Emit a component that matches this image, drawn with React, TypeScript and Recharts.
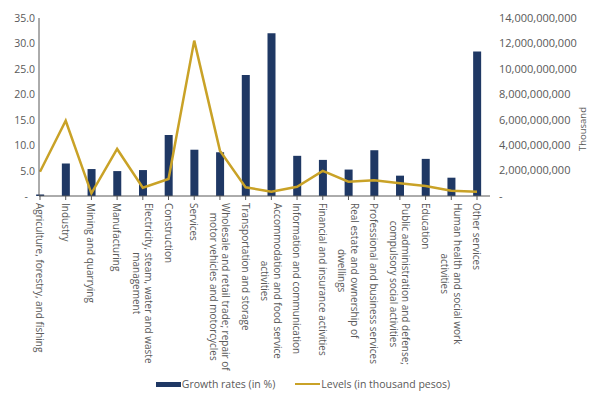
import { Bar, ComposedChart, Legend, Line, XAxis, YAxis } from 'recharts'

const categories = [
  'Agriculture, forestry, and fishing',
  'Industry',
  'Mining and quarrying',
  'Manufacturing',
  'Electricity, steam, water and waste management',
  'Construction',
  'Services',
  'Wholesale and retail trade; repair of motor vehicles and motorcycles',
  'Transportation and storage',
  'Accommodation and food service activities',
  'Information and communication',
  'Financial and insurance activities',
  'Real estate and ownership of dwellings',
  'Professional and business services',
  'Public administration and defense; compulsory social activities',
  'Education',
  'Human health and social work activities',
  'Other services',
]

const growthRates = [
  0.3, 6.4, 5.3, 4.9, 5.1, 12.0, 9.1, 8.6, 23.8, 32.0, 7.9, 7.1, 5.2, 9.0, 4.0,
  7.3, 3.6, 28.4,
]

const levels = [
  1.91e9, 5.92e9, 0.21e9, 3.7e9, 0.65e9, 1.34e9, 12.22e9, 3.57e9, 0.68e9,
  0.34e9, 0.73e9, 1.97e9, 1.13e9, 1.23e9, 1.0e9, 0.79e9, 0.42e9, 0.34e9,
]

const leftTicks = [0, 5, 10, 15, 20, 25, 30, 35]
const rightTicks = [0, 2e9, 4e9, 6e9, 8e9, 10e9, 12e9, 14e9]

const data = categories.map((name, i) => ({
  name,
  growth: growthRates[i],
  level: levels[i],
}))

const FONT = '"Open Sans", sans-serif'
const TEXT = '#595959'
const NAVY = '#1f3864'
const GOLD = '#c9a227'

let ctx: CanvasRenderingContext2D | null = null
function measure(text: string, size: number) {
  if (!ctx) ctx = document.createElement('canvas').getContext('2d')
  if (!ctx) return text.length * size * 0.5
  ctx.font = `${size}px ${FONT}`
  return ctx.measureText(text).width
}

// greedy word wrap on character count
function wrap(label: string, maxChars: number) {
  const lines: string[] = []
  let cur = ''
  for (const w of label.split(' ')) {
    const next = cur ? cur + ' ' + w : w
    if (next.length > maxChars && cur) {
      lines.push(cur)
      cur = w
    } else {
      cur = next
    }
  }
  if (cur) lines.push(cur)
  return lines
}

function CategoryTick(props: any) {
  const { x, y, payload } = props
  const size = 10
  const lh = 12.5
  const lines = wrap(String(payload.value), 37)
  const maxW = Math.max(...lines.map((l) => measure(l, size)))
  const n = lines.length
  return (
    <g transform={`translate(${x},${y}) rotate(90)`}>
      {lines.map((l, i) => (
        <text
          key={i}
          x={maxW / 2}
          y={(i - (n - 1) / 2) * lh}
          textAnchor="middle"
          dominantBaseline="central"
          fontSize={size}
          fontFamily={FONT}
          fill={TEXT}
        >
          {l}
        </text>
      ))}
    </g>
  )
}

function LeftTick(props: any) {
  const { x, y, payload } = props
  const zero = payload.value === 0
  return (
    <text
      x={zero ? x - 7 : x}
      y={y}
      textAnchor="end"
      dominantBaseline="central"
      fontSize={10.5}
      fontFamily={FONT}
      fill={TEXT}
    >
      {zero ? '-' : Number(payload.value).toFixed(1)}
    </text>
  )
}

function LegendContent() {
  const items = [
    { label: 'Growth rates (in %)', color: NAVY, h: 5 },
    { label: 'Levels (in thousand pesos)', color: GOLD, h: 2.5 },
  ]
  return (
    <div
      style={{
        display: 'flex',
        justifyContent: 'center',
        gap: 20,
        fontFamily: FONT,
        fontSize: 10.5,
        color: TEXT,
        paddingLeft: 16,
        paddingTop: 6,
      }}
    >
      {items.map((it) => (
        <div key={it.label} style={{ display: 'flex', alignItems: 'center' }}>
          <span
            style={{
              display: 'inline-block',
              width: 25,
              height: it.h,
              background: it.color,
              marginRight: 1,
            }}
          />
          {it.label}
        </div>
      ))}
    </div>
  )
}

export default function App() {
  return (
    <div style={{ position: 'fixed', left: 0, top: 0, background: '#fff' }}>
      <ComposedChart
        width={590}
        height={393}
        data={data}
        margin={{ top: 18, right: 0, left: 0, bottom: 0 }}
      >
        <XAxis
          dataKey="name"
          scale="point"
          padding={{ left: 1, right: 13 }}
          interval={0}
          height={175}
          tickSize={4}
          tickMargin={3}
          tick={<CategoryTick />}
          axisLine={{ stroke: '#595959' }}
          tickLine={{ stroke: '#595959' }}
        />
        <YAxis
          yAxisId="left"
          width={39}
          domain={[0, 35]}
          ticks={leftTicks}
          tickSize={0}
          tickMargin={4}
          tick={<LeftTick />}
          axisLine={{ stroke: '#595959' }}
          tickLine={false}
          interval={0}
        />
        <YAxis
          yAxisId="right"
          orientation="right"
          width={100}
          domain={[0, 14e9]}
          ticks={rightTicks}
          tickSize={6}
          tickMargin={3}
          interval={0}
          axisLine={false}
          tickLine={false}
          tick={{ fontSize: 11, fontFamily: FONT, fill: TEXT }}
          tickFormatter={(v: number) =>
            v === 0 ? '-' : v.toLocaleString('en-US')
          }
          label={{
            value: 'Thousand',
            angle: -90,
            position: 'insideRight',
            offset: 7,
            style: { fontSize: 9.5, fontFamily: FONT, fill: TEXT },
          }}
        />
        <Legend
          verticalAlign="bottom"
          content={<LegendContent />}
          wrapperStyle={{ height: 22 }}
        />
        <Bar
          yAxisId="left"
          dataKey="growth"
          name="Growth rates (in %)"
          fill={NAVY}
          barSize={8}
          isAnimationActive={false}
        />
        <Line
          yAxisId="right"
          type="linear"
          dataKey="level"
          name="Levels (in thousand pesos)"
          stroke={GOLD}
          strokeWidth={2.5}
          dot={false}
          isAnimationActive={false}
        />
      </ComposedChart>
    </div>
  )
}
